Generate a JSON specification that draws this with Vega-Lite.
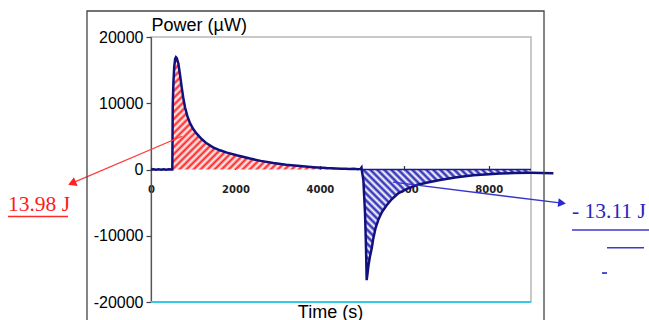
{
  "$schema": "https://vega.github.io/schema/vega-lite/v6.json",
  "autosize": {"type": "none"},
  "padding": {"left": 151, "top": 37, "right": 118, "bottom": 18},
  "width": 380,
  "height": 265,
  "background": "white",
  "config": {"view": {"stroke": "#b8b8b8", "strokeWidth": 1.5}, "font": "Liberation Sans"},
  "data": {"values": [{}]},
  "datasets": {
    "curve": [
      {"t": 0, "P": 0}, {"t": 60, "P": 40}, {"t": 120, "P": -30}, {"t": 180, "P": 20}, {"t": 240, "P": -40},
      {"t": 300, "P": 30}, {"t": 360, "P": -20}, {"t": 420, "P": 40}, {"t": 480, "P": -10}, {"t": 505, "P": 0},
      {"t": 510, "P": 5000}, {"t": 515, "P": 9500}, {"t": 530, "P": 13000}, {"t": 550, "P": 15500},
      {"t": 572, "P": 16700}, {"t": 590, "P": 16950}, {"t": 610, "P": 16800}, {"t": 648, "P": 16000},
      {"t": 687, "P": 14300}, {"t": 727, "P": 12400}, {"t": 765, "P": 10800}, {"t": 805, "P": 9400},
      {"t": 860, "P": 8100}, {"t": 924, "P": 7000}, {"t": 1000, "P": 6100}, {"t": 1082, "P": 5400},
      {"t": 1200, "P": 4600}, {"t": 1318, "P": 3950}, {"t": 1470, "P": 3350}, {"t": 1634, "P": 2900},
      {"t": 1800, "P": 2550}, {"t": 2029, "P": 2150}, {"t": 2345, "P": 1650}, {"t": 2600, "P": 1300},
      {"t": 2897, "P": 980}, {"t": 3200, "P": 720}, {"t": 3529, "P": 520}, {"t": 3850, "P": 350},
      {"t": 4160, "P": 220}, {"t": 4500, "P": 130}, {"t": 4600, "P": 100}, {"t": 4700, "P": 60},
      {"t": 4800, "P": 110}, {"t": 4900, "P": 30}, {"t": 4960, "P": 90}, {"t": 4985, "P": 300},
      {"t": 4990, "P": 0}, {"t": 5030, "P": -1600}, {"t": 5069, "P": -6600}, {"t": 5092, "P": -11700},
      {"t": 5108, "P": -16700}, {"t": 5130, "P": -15600}, {"t": 5150, "P": -14500}, {"t": 5190, "P": -13000},
      {"t": 5230, "P": -11800}, {"t": 5265, "P": -10400}, {"t": 5320, "P": -8800}, {"t": 5384, "P": -7600},
      {"t": 5470, "P": -6400}, {"t": 5582, "P": -5400}, {"t": 5700, "P": -4500}, {"t": 5856, "P": -3600},
      {"t": 6050, "P": -2950}, {"t": 6291, "P": -2350}, {"t": 6550, "P": -1950}, {"t": 6845, "P": -1600},
      {"t": 7200, "P": -1200}, {"t": 7634, "P": -880}, {"t": 8000, "P": -700}, {"t": 8266, "P": -600},
      {"t": 8600, "P": -540}, {"t": 8977, "P": -500}, {"t": 9000, "P": -500}, {"t": 9250, "P": -540},
      {"t": 9530, "P": -560}
    ]
  },
  "encoding": {
    "x": {"type": "quantitative", "scale": {"domain": [0, 9000], "nice": false, "zero": false},
      "axis": {"orient": "bottom", "offset": -132.5, "domain": false, "values": [0, 2000, 4000, 6000, 8000], "format": "d",
        "tickSize": -4, "tickColor": "#333", "tickWidth": 1.2, "grid": false,
        "labelFont": "DejaVu Sans", "labelFontWeight": "bold", "labelFontSize": 10, "labelColor": "#222", "labelPadding": 19,
        "labelFlush": false, "labelOverlap": false,
        "title": "Time (s)", "titleFont": "Liberation Sans", "titleFontSize": 18, "titleFontWeight": "normal", "titleColor": "#000",
        "titleX": 179, "titleY": 147.5, "titleBaseline": "alphabetic", "titleAlign": "center"}},
    "y": {"type": "quantitative", "scale": {"domain": [-20000, 20000], "nice": false},
      "axis": {"values": [-20000, -10000, 0, 10000, 20000], "tickSize": 5, "tickColor": "#444", "tickWidth": 1.2,
        "domainColor": "#555", "domainWidth": 1.2, "grid": false,
        "labelFont": "Liberation Sans", "labelFontSize": 16, "labelColor": "#000", "labelPadding": 3,
        "labelExpr": "'' + datum.value", "labelFlush": false,
        "title": "Power (µW)", "titleAngle": 0, "titleAlign": "left", "titleBaseline": "alphabetic",
        "titleX": 0, "titleY": -7, "titleFont": "Liberation Sans", "titleFontSize": 18, "titleFontWeight": "normal", "titleColor": "#000"}}
  },
  "layer": [
    {
      "data": {"name": "curve"},
      "transform": [{"filter": "datum.t >= 505 && datum.t <= 4500"}],
      "mark": {"type": "area", "fill": {"gradient": "linear", "x1": 0, "y1": 0, "x2": 1.154, "y2": 0.768, "stops": [
        {"offset": 0, "color": "#f22"}, {"offset": 0.0125, "color": "#fff"}, {"offset": 0.025, "color": "#f22"}, {"offset": 0.0375, "color": "#fff"},
        {"offset": 0.05, "color": "#f22"}, {"offset": 0.0625, "color": "#fff"}, {"offset": 0.075, "color": "#f22"}, {"offset": 0.0875, "color": "#fff"},
        {"offset": 0.1, "color": "#f22"}, {"offset": 0.1125, "color": "#fff"}, {"offset": 0.125, "color": "#f22"}, {"offset": 0.1375, "color": "#fff"},
        {"offset": 0.15, "color": "#f22"}, {"offset": 0.1625, "color": "#fff"}, {"offset": 0.175, "color": "#f22"}, {"offset": 0.1875, "color": "#fff"},
        {"offset": 0.2, "color": "#f22"}, {"offset": 0.2125, "color": "#fff"}, {"offset": 0.225, "color": "#f22"}, {"offset": 0.2375, "color": "#fff"},
        {"offset": 0.25, "color": "#f22"}, {"offset": 0.2625, "color": "#fff"}, {"offset": 0.275, "color": "#f22"}, {"offset": 0.2875, "color": "#fff"},
        {"offset": 0.3, "color": "#f22"}, {"offset": 0.3125, "color": "#fff"}, {"offset": 0.325, "color": "#f22"}, {"offset": 0.3375, "color": "#fff"},
        {"offset": 0.35, "color": "#f22"}, {"offset": 0.3625, "color": "#fff"}, {"offset": 0.375, "color": "#f22"}, {"offset": 0.3875, "color": "#fff"},
        {"offset": 0.4, "color": "#f22"}, {"offset": 0.4125, "color": "#fff"}, {"offset": 0.425, "color": "#f22"}, {"offset": 0.4375, "color": "#fff"},
        {"offset": 0.45, "color": "#f22"}, {"offset": 0.4625, "color": "#fff"}, {"offset": 0.475, "color": "#f22"}, {"offset": 0.4875, "color": "#fff"},
        {"offset": 0.5, "color": "#f22"}, {"offset": 0.5125, "color": "#fff"}, {"offset": 0.525, "color": "#f22"}, {"offset": 0.5375, "color": "#fff"},
        {"offset": 0.55, "color": "#f22"}, {"offset": 0.5625, "color": "#fff"}, {"offset": 0.575, "color": "#f22"}, {"offset": 0.5875, "color": "#fff"},
        {"offset": 0.6, "color": "#f22"}, {"offset": 0.6125, "color": "#fff"}, {"offset": 0.625, "color": "#f22"}, {"offset": 0.6375, "color": "#fff"},
        {"offset": 0.65, "color": "#f22"}, {"offset": 0.6625, "color": "#fff"}, {"offset": 0.675, "color": "#f22"}, {"offset": 0.6875, "color": "#fff"},
        {"offset": 0.7, "color": "#f22"}, {"offset": 0.7125, "color": "#fff"}, {"offset": 0.725, "color": "#f22"}, {"offset": 0.7375, "color": "#fff"},
        {"offset": 0.75, "color": "#f22"}, {"offset": 0.7625, "color": "#fff"}, {"offset": 0.775, "color": "#f22"}, {"offset": 0.7875, "color": "#fff"},
        {"offset": 0.8, "color": "#f22"}, {"offset": 0.8125, "color": "#fff"}, {"offset": 0.825, "color": "#f22"}, {"offset": 0.8375, "color": "#fff"},
        {"offset": 0.85, "color": "#f22"}, {"offset": 0.8625, "color": "#fff"}, {"offset": 0.875, "color": "#f22"}, {"offset": 0.8875, "color": "#fff"},
        {"offset": 0.9, "color": "#f22"}, {"offset": 0.9125, "color": "#fff"}, {"offset": 0.925, "color": "#f22"}, {"offset": 0.9375, "color": "#fff"},
        {"offset": 0.95, "color": "#f22"}, {"offset": 0.9625, "color": "#fff"}, {"offset": 0.975, "color": "#f22"}, {"offset": 0.9875, "color": "#fff"},
        {"offset": 1, "color": "#f22"}
      ]}},
      "encoding": {
        "x": {"field": "t", "type": "quantitative"},
        "y": {"field": "P", "type": "quantitative"},
        "y2": {"datum": 0}
      }
    },
    {
      "data": {"name": "curve"},
      "transform": [{"filter": "datum.t >= 4990 && datum.t <= 9000"}],
      "mark": {"type": "area", "fill": {"gradient": "linear", "x1": 0, "y1": 1, "x2": 1.159, "y2": 0.243, "stops": [
        {"offset": 0, "color": "#1c1cb0"}, {"offset": 0.0125, "color": "#fff"}, {"offset": 0.025, "color": "#1c1cb0"}, {"offset": 0.0375, "color": "#fff"},
        {"offset": 0.05, "color": "#1c1cb0"}, {"offset": 0.0625, "color": "#fff"}, {"offset": 0.075, "color": "#1c1cb0"}, {"offset": 0.0875, "color": "#fff"},
        {"offset": 0.1, "color": "#1c1cb0"}, {"offset": 0.1125, "color": "#fff"}, {"offset": 0.125, "color": "#1c1cb0"}, {"offset": 0.1375, "color": "#fff"},
        {"offset": 0.15, "color": "#1c1cb0"}, {"offset": 0.1625, "color": "#fff"}, {"offset": 0.175, "color": "#1c1cb0"}, {"offset": 0.1875, "color": "#fff"},
        {"offset": 0.2, "color": "#1c1cb0"}, {"offset": 0.2125, "color": "#fff"}, {"offset": 0.225, "color": "#1c1cb0"}, {"offset": 0.2375, "color": "#fff"},
        {"offset": 0.25, "color": "#1c1cb0"}, {"offset": 0.2625, "color": "#fff"}, {"offset": 0.275, "color": "#1c1cb0"}, {"offset": 0.2875, "color": "#fff"},
        {"offset": 0.3, "color": "#1c1cb0"}, {"offset": 0.3125, "color": "#fff"}, {"offset": 0.325, "color": "#1c1cb0"}, {"offset": 0.3375, "color": "#fff"},
        {"offset": 0.35, "color": "#1c1cb0"}, {"offset": 0.3625, "color": "#fff"}, {"offset": 0.375, "color": "#1c1cb0"}, {"offset": 0.3875, "color": "#fff"},
        {"offset": 0.4, "color": "#1c1cb0"}, {"offset": 0.4125, "color": "#fff"}, {"offset": 0.425, "color": "#1c1cb0"}, {"offset": 0.4375, "color": "#fff"},
        {"offset": 0.45, "color": "#1c1cb0"}, {"offset": 0.4625, "color": "#fff"}, {"offset": 0.475, "color": "#1c1cb0"}, {"offset": 0.4875, "color": "#fff"},
        {"offset": 0.5, "color": "#1c1cb0"}, {"offset": 0.5125, "color": "#fff"}, {"offset": 0.525, "color": "#1c1cb0"}, {"offset": 0.5375, "color": "#fff"},
        {"offset": 0.55, "color": "#1c1cb0"}, {"offset": 0.5625, "color": "#fff"}, {"offset": 0.575, "color": "#1c1cb0"}, {"offset": 0.5875, "color": "#fff"},
        {"offset": 0.6, "color": "#1c1cb0"}, {"offset": 0.6125, "color": "#fff"}, {"offset": 0.625, "color": "#1c1cb0"}, {"offset": 0.6375, "color": "#fff"},
        {"offset": 0.65, "color": "#1c1cb0"}, {"offset": 0.6625, "color": "#fff"}, {"offset": 0.675, "color": "#1c1cb0"}, {"offset": 0.6875, "color": "#fff"},
        {"offset": 0.7, "color": "#1c1cb0"}, {"offset": 0.7125, "color": "#fff"}, {"offset": 0.725, "color": "#1c1cb0"}, {"offset": 0.7375, "color": "#fff"},
        {"offset": 0.75, "color": "#1c1cb0"}, {"offset": 0.7625, "color": "#fff"}, {"offset": 0.775, "color": "#1c1cb0"}, {"offset": 0.7875, "color": "#fff"},
        {"offset": 0.8, "color": "#1c1cb0"}, {"offset": 0.8125, "color": "#fff"}, {"offset": 0.825, "color": "#1c1cb0"}, {"offset": 0.8375, "color": "#fff"},
        {"offset": 0.85, "color": "#1c1cb0"}, {"offset": 0.8625, "color": "#fff"}, {"offset": 0.875, "color": "#1c1cb0"}, {"offset": 0.8875, "color": "#fff"},
        {"offset": 0.9, "color": "#1c1cb0"}, {"offset": 0.9125, "color": "#fff"}, {"offset": 0.925, "color": "#1c1cb0"}, {"offset": 0.9375, "color": "#fff"},
        {"offset": 0.95, "color": "#1c1cb0"}, {"offset": 0.9625, "color": "#fff"}, {"offset": 0.975, "color": "#1c1cb0"}, {"offset": 0.9875, "color": "#fff"},
        {"offset": 1, "color": "#1c1cb0"}
      ]}},
      "encoding": {
        "x": {"field": "t", "type": "quantitative"},
        "y": {"field": "P", "type": "quantitative"},
        "y2": {"datum": 0}
      }
    },
    {
      "mark": {"type": "rule", "color": "#1a1a90", "strokeWidth": 1.5},
      "encoding": {"x": {"datum": 4990}, "x2": {"datum": 9000}, "y": {"datum": 0}}
    },
    {
      "data": {"name": "curve"},
      "mark": {"type": "line", "color": "#10107e", "strokeWidth": 2.5},
      "encoding": {"x": {"field": "t", "type": "quantitative"}, "y": {"field": "P", "type": "quantitative"}}
    },
    {
      "mark": {"type": "rule", "color": "#35c8e8", "strokeWidth": 2},
      "encoding": {"x": {"datum": 0}, "x2": {"datum": 9000}, "y": {"datum": -20000}}
    },
    {
      "mark": {"type": "rule", "color": "#ff3b3b", "strokeWidth": 1.2},
      "encoding": {"x": {"datum": 734}, "x2": {"datum": -1871}, "y": {"datum": 5015}, "y2": {"datum": -2063}}
    },
    {
      "mark": {"type": "point", "shape": "triangle-up", "filled": true, "color": "#ff2020", "size": 90, "angle": 247, "opacity": 1},
      "encoding": {"x": {"datum": -1871}, "y": {"datum": -2063}}
    },
    {
      "mark": {"type": "rule", "color": "#3535d0", "strokeWidth": 1.4},
      "encoding": {"x": {"datum": 5732}, "x2": {"datum": 9735}, "y": {"datum": -1913}, "y2": {"datum": -5075}}
    },
    {
      "mark": {"type": "point", "shape": "triangle-up", "filled": true, "color": "#2a2ad0", "size": 80, "angle": 97, "opacity": 1},
      "encoding": {"x": {"datum": 9735}, "y": {"datum": -5075}}
    },
    {
      "mark": {"type": "text", "text": "13.98 J", "font": "Liberation Serif", "fontSize": 21.5, "color": "#ff1a1a", "align": "left", "baseline": "alphabetic"},
      "encoding": {"x": {"datum": -3387}, "y": {"datum": -6264}}
    },
    {
      "mark": {"type": "rule", "color": "#ff2a2a", "strokeWidth": 1.5},
      "encoding": {"x": {"datum": -3387}, "x2": {"datum": -1966}, "y": {"datum": -7094}}
    },
    {
      "mark": {"type": "text", "text": "- 13.11 J", "font": "Liberation Serif", "fontSize": 21.5, "color": "#2626c0", "align": "left", "baseline": "alphabetic"},
      "encoding": {"x": {"datum": 9971}, "y": {"datum": -7321}}
    },
    {
      "mark": {"type": "rule", "color": "#3a3ad0", "strokeWidth": 1.5},
      "encoding": {"x": {"datum": 9971}, "x2": {"datum": 11795}, "y": {"datum": -9132}}
    },
    {
      "mark": {"type": "rule", "color": "#3a3ad0", "strokeWidth": 1.5},
      "encoding": {"x": {"datum": 10800}, "x2": {"datum": 11677}, "y": {"datum": -11800}}
    },
    {
      "mark": {"type": "rule", "color": "#3a3ad0", "strokeWidth": 1.8},
      "encoding": {"x": {"datum": 10682}, "x2": {"datum": 10800}, "y": {"datum": -15630}}
    },
    {
      "mark": {"type": "rect", "filled": false, "color": "#444", "strokeWidth": 1.3},
      "encoding": {"x": {"datum": -1516}, "x2": {"datum": 9308}, "y": {"datum": 23925}, "y2": {"datum": -26000}}
    }
  ]
}
